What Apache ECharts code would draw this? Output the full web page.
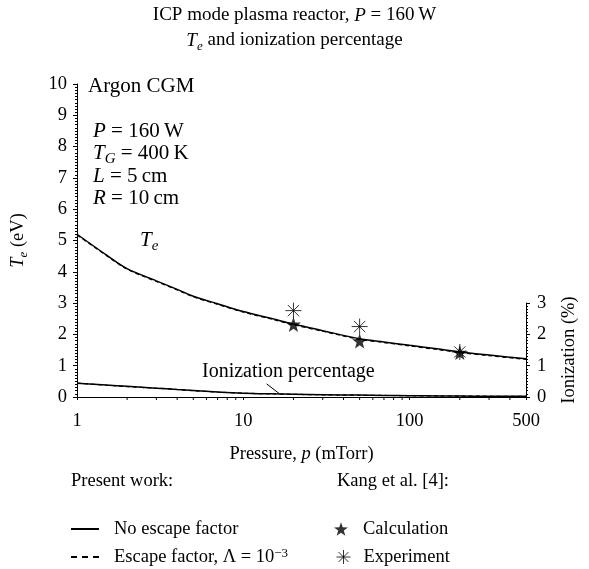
<!DOCTYPE html>
<html>
<head>
<meta charset="utf-8">
<script src="https://cdn.jsdelivr.net/npm/echarts@6/dist/echarts.min.js"></script>
<style>
  html, body { margin: 0; padding: 0; background: #fff; }
  #chart { width: 589px; height: 569px; }
</style>
</head>
<body>
<div id="chart"></div>
<script>
// Pressure grid (mTorr) of the model curves
const pressure = [1, 1.5, 2, 3, 4, 5, 7, 10, 15, 20, 30, 50, 70, 100, 150, 200, 300, 500];
// Electron temperature T_e (eV)
const teNoEscape = [5.20, 4.54, 4.10, 3.71, 3.44, 3.22, 2.98, 2.73, 2.50, 2.33, 2.12, 1.86, 1.76, 1.65, 1.53, 1.44, 1.34, 1.22];
const teEscape   = [5.18, 4.52, 4.08, 3.69, 3.42, 3.20, 2.96, 2.71, 2.48, 2.31, 2.10, 1.84, 1.74, 1.63, 1.51, 1.42, 1.32, 1.20];
// Ionization percentage (%)
const ionNoEscape = [0.44, 0.38, 0.34, 0.28, 0.24, 0.21, 0.16, 0.12, 0.10, 0.09, 0.075, 0.06, 0.05, 0.04, 0.035, 0.03, 0.025, 0.02];
const ionEscape   = [0.44, 0.38, 0.33, 0.28, 0.24, 0.20, 0.16, 0.12, 0.10, 0.085, 0.07, 0.055, 0.05, 0.04, 0.033, 0.03, 0.024, 0.02];
// Kang et al. [4] reference points
const kangPressure = [20, 50, 200];
const kangCalculation = [2.32, 1.79, 1.42];
const kangExperiment = [2.76, 2.25, 1.44];
// Intermediate pressure ticks on the log axis
const pressureMinorTicks = [2, 3, 4, 5, 6, 7, 8, 9, 20, 30, 40, 50, 60, 70, 80, 90, 200, 300, 400];

const serif = '"Liberation Serif", "Times New Roman", serif';
const zip = (xs, ys) => xs.map((x, i) => [x, ys[i]]);

// rich-text styles for italic symbols, subscripts and superscripts
function rich(size, lh) {
  lh = lh || Math.round(size * 1.3);
  return {
    n:   { fontFamily: serif, fontSize: size, color: '#000', lineHeight: lh },
    i:   { fontFamily: serif, fontSize: size, fontStyle: 'italic', color: '#000', lineHeight: lh },
    sub: { fontFamily: serif, fontSize: Math.round(size * 0.7), fontStyle: 'italic', color: '#000',
           verticalAlign: 'bottom', lineHeight: Math.round(size * 0.62) },
    sup: { fontFamily: serif, fontSize: Math.round(size * 0.68), color: '#000',
           verticalAlign: 'top', lineHeight: Math.round(size * 0.5) }
  };
}

const starPath = 'path://M0,-10L2.35,-3.24L9.51,-3.09L3.8,1.24L5.88,8.09L0,4.2L-5.88,8.09L-3.8,1.24L-9.51,-3.09L-2.35,-3.24Z';
const asteriskPath = 'path://M0,-10L0,10M-10,0L10,0M-7.07,-7.07L7.07,7.07M-7.07,7.07L7.07,-7.07';

function label(x, y, text, size) {
  return {
    type: 'text', x: x, y: y,
    style: { text: text, rich: rich(size), fontFamily: serif, fontSize: size, lineHeight: Math.round(size * 1.3),
             fill: '#000', verticalAlign: 'middle' }
  };
}

// one legend block per entry so each row sits where it belongs
function legendRow(left, top, name, opts) {
  return Object.assign({
    left: left, top: top, padding: 0, orient: 'vertical', itemHeight: 14, itemGap: 0,
    selectedMode: false, data: [name],
    textStyle: { fontFamily: serif, fontSize: 18.5, lineHeight: 20, color: '#000', padding: [0, 0, 0, 10], rich: rich(18.5, 20) }
  }, opts || {});
}

const chart = echarts.init(document.getElementById('chart'), null, { renderer: 'canvas' });

const axisBlack = { lineStyle: { color: '#000', width: 1 } };
const tickFont = { color: '#000', fontFamily: serif, fontSize: 18.5 };

chart.setOption({
  animation: false,
  backgroundColor: '#fff',
  title: [
    { text: 'ICP mode plasma reactor, {i|P} = 160\u2009W', left: 'center', top: 3, padding: 0,
      textStyle: { fontFamily: serif, fontSize: 19, lineHeight: 25, fontWeight: 'normal', color: '#000', rich: rich(19) } },
    { text: '{i|T}{sub|e} and ionization percentage', left: 'center', top: 28, padding: 0,
      textStyle: { fontFamily: serif, fontSize: 19, lineHeight: 25, fontWeight: 'normal', color: '#000', rich: rich(19) } }
  ],
  grid: [
    { left: 77, right: 63, top: 84, bottom: 172, containLabel: false, outerBoundsMode: 'none' },
    { left: 77, right: 63, top: 303, bottom: 172, containLabel: false, outerBoundsMode: 'none' }
  ],
  xAxis: [
    {
      type: 'log', gridIndex: 0, min: 1, max: 500, logBase: 10,
      axisLine: axisBlack,
      axisTick: { show: true, inside: false, length: 3, lineStyle: { color: '#000' } },
      axisLabel: Object.assign({ margin: 15, showMaxLabel: true, showMinLabel: true }, tickFont),
      splitLine: { show: false },
      name: 'Pressure, {i|p} (mTorr)', nameLocation: 'middle', nameGap: 45,
      nameTextStyle: { fontFamily: serif, fontSize: 18.5, lineHeight: 24, color: '#000', rich: rich(18.5) }
    },
    {
      type: 'log', gridIndex: 1, min: 1, max: 500, logBase: 10, show: false
    }
  ],
  yAxis: [
    {
      type: 'value', gridIndex: 0, min: 0, max: 10, interval: 1, position: 'left',
      axisLine: { show: true, lineStyle: { color: '#000', width: 1 } },
      axisTick: { show: true, inside: false, length: 4, lineStyle: { color: '#000' } },
      minorTick: { show: true, splitNumber: 10, length: 2, lineStyle: { color: '#000' } },
      axisLabel: Object.assign({ margin: 10 }, tickFont),
      splitLine: { show: false },
      name: '{i|T}{sub|e} (eV)', nameLocation: 'middle', nameGap: 47, nameRotate: 90,
      nameTextStyle: { fontFamily: serif, fontSize: 18.5, lineHeight: 24, color: '#000', rich: rich(18.5) }
    },
    {
      type: 'value', gridIndex: 1, min: 0, max: 3, interval: 1, position: 'right',
      axisLine: { show: true, lineStyle: { color: '#000', width: 1 } },
      axisTick: { show: true, inside: false, length: 4, lineStyle: { color: '#000' } },
      minorTick: { show: true, splitNumber: 10, length: 2, lineStyle: { color: '#000' } },
      axisLabel: Object.assign({ margin: 11 }, tickFont),
      splitLine: { show: false },
      name: 'Ionization (%)', nameLocation: 'middle', nameGap: 34, nameRotate: 90,
      nameTextStyle: { fontFamily: serif, fontSize: 18.5, color: '#000' }
    }
  ],
  legend: [
    legendRow(70, 519, 'No escape factor', { itemWidth: 28, itemStyle: { opacity: 0 } }),
    legendRow(70, 547, 'Escape factor', {
      itemWidth: 28, itemStyle: { opacity: 0 }, lineStyle: { type: [6, 5] },
      formatter: function () { return 'Escape factor, \u039b = 10{sup|\u22123}'; }
    }),
    legendRow(334, 519, 'Calculation', { itemWidth: 14 }),
    legendRow(334, 547, 'Experiment', { itemWidth: 14, itemStyle: { borderWidth: 1 },
      textStyle: { fontFamily: serif, fontSize: 18.5, lineHeight: 20, color: '#000', padding: [0, 0, 0, 8] } })
  ],
  graphic: [
    label(88, 86, 'Argon CGM', 21),
    label(93, 131, '{i|P} = 160\u2009W', 21),
    label(93, 153, '{i|T}{sub|G} = 400\u2009K', 21),
    label(93, 176, '{i|L} = 5\u2009cm', 21),
    label(93, 198, '{i|R} = 10\u2009cm', 21),
    label(140, 240, '{i|T}{sub|e}', 21),
    label(202, 372, 'Ionization percentage', 20),
    label(71, 481, 'Present work:', 18.5),
    label(337, 481, 'Kang et al. [4]:', 18.5)
  ],
  series: [
    {
      name: 'No escape factor', type: 'line', xAxisIndex: 0, yAxisIndex: 0,
      data: zip(pressure, teNoEscape), symbol: 'none', showSymbol: false, smooth: 0.3,
      lineStyle: { color: '#000', width: 1.5, type: 'solid' }, itemStyle: { color: '#000' }, z: 3
    },
    {
      name: 'Escape factor', type: 'line', xAxisIndex: 0, yAxisIndex: 0,
      data: zip(pressure, teEscape), symbol: 'none', showSymbol: false, smooth: 0.3,
      lineStyle: { color: '#000', width: 1.2, type: [4, 3] }, itemStyle: { color: '#000' }, z: 2
    },
    {
      name: 'No escape factor', type: 'line', xAxisIndex: 1, yAxisIndex: 1,
      data: zip(pressure, ionNoEscape), symbol: 'none', showSymbol: false, smooth: 0.3,
      lineStyle: { color: '#000', width: 1.5, type: 'solid' }, itemStyle: { color: '#000' }, z: 3,
      markLine: {
        silent: true, symbol: ['none', 'arrow'], symbolSize: [0, 8],
        lineStyle: { color: '#000', width: 1, type: 'solid' }, label: { show: false },
        data: [[{ coord: [13.8, 0.42] }, { coord: [16.5, 0.1] }]]
      }
    },
    {
      name: 'Escape factor', type: 'line', xAxisIndex: 1, yAxisIndex: 1,
      data: zip(pressure, ionEscape), symbol: 'none', showSymbol: false, smooth: 0.3,
      lineStyle: { color: '#000', width: 1.2, type: [4, 3] }, itemStyle: { color: '#000' }, z: 2
    },
    {
      name: 'Calculation', type: 'scatter', xAxisIndex: 0, yAxisIndex: 0,
      data: zip(kangPressure, kangCalculation), symbol: starPath, symbolSize: 15,
      itemStyle: { color: '#000' }, z: 5
    },
    {
      name: 'Experiment', type: 'scatter', xAxisIndex: 0, yAxisIndex: 0,
      data: zip(kangPressure, kangExperiment), symbol: asteriskPath, symbolSize: 16,
      itemStyle: { color: 'none', borderColor: '#000', borderWidth: 1 }, z: 5
    },
    {
      // intermediate tick marks along the log pressure axis
      name: 'pressureTicks', type: 'custom', xAxisIndex: 0, yAxisIndex: 0, silent: true,
      data: pressureMinorTicks.map(v => [v, 0]),
      renderItem: function (params, api) {
        const p = api.coord([api.value(0), 0]);
        return { type: 'line', shape: { x1: p[0], y1: p[1], x2: p[0], y2: p[1] + 3 },
                 style: { stroke: '#000', lineWidth: 1 } };
      },
      clip: false, z: 1
    }
  ]
});
</script>
</body>
</html>
